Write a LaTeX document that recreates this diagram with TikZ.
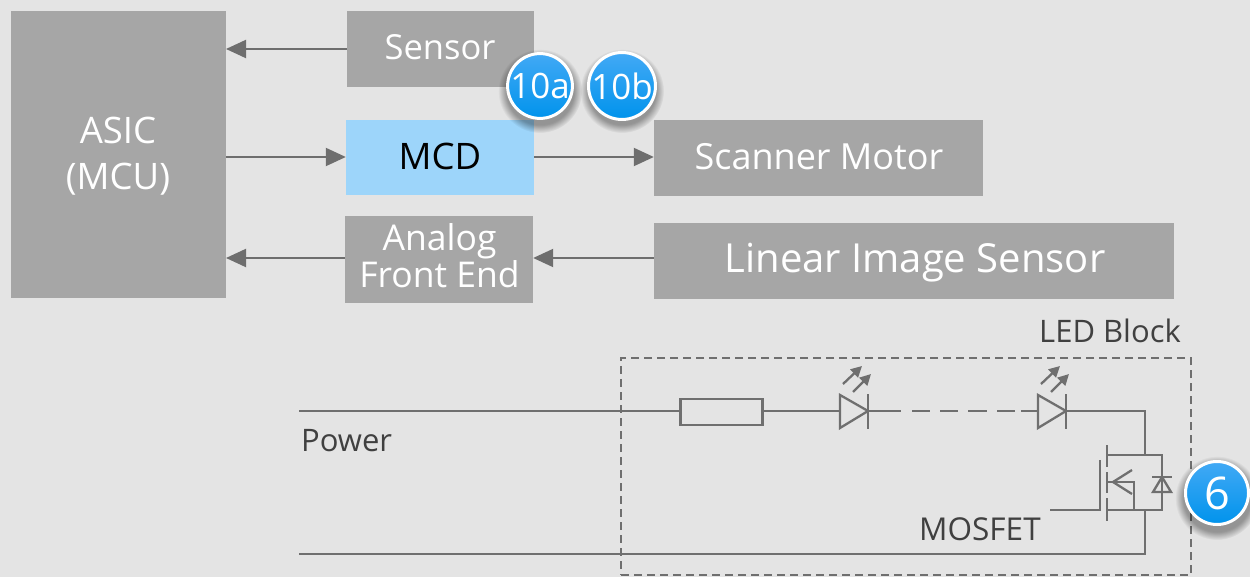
\documentclass[tikz,border=0pt]{standalone}
\usepackage{fontspec}
\setmainfont{Open Sans}
\usetikzlibrary{arrows.meta,shadows,fadings,calc}
\definecolor{bg}{HTML}{E4E4E4}
\definecolor{boxgray}{HTML}{A6A6A6}
\definecolor{mcdblue}{HTML}{9DD5FA}
\definecolor{wire}{HTML}{6F6F6F}
\definecolor{arrowgray}{HTML}{6E6E6E}
\definecolor{txt}{HTML}{404040}
\definecolor{badgetop}{HTML}{42A9F5}
\definecolor{badgebot}{HTML}{0093EC}
\tikzset{
  x=1pt,y=-1pt,
  block/.style={fill=boxgray,draw=none,text=white,inner sep=0pt,align=center,font=\fontsize{#1}{#1}\selectfont},
  block/.default=34,
  flow/.style={draw=arrowgray,line width=2pt,-{Triangle[length=20pt,width=18pt]},shorten >=0pt},
  wireline/.style={draw=wire,line width=2.3pt,line cap=butt,line join=miter},
  label/.style={text=txt,inner sep=0pt,font=\fontsize{31}{31}\selectfont},
  badge/.style={circle,minimum size=63pt,inner sep=0pt,draw=white,line width=3pt,text=white,
    top color=badgetop,bottom color=badgebot,
    font=\fontsize{#1}{#1}\selectfont},
  badge/.default=36,
  badgeshadow/.style={fill=black,fill opacity=.35,path fading=circle with fuzzy edge 20 percent}
}
\newcommand{\blockat}[7]{% name, x1,y1,x2,y2, style, text
  \node[#6,minimum width=#4pt-#2pt,minimum height=#5pt-#3pt] (#1) at ({(#2+#4)/2},{(#3+#5)/2}) {#7};}
\begin{document}
\begin{tikzpicture}
\useasboundingbox (0,0) rectangle (1250,577);
\fill[bg] (0,0) rectangle (1250,577);
% blocks
\blockat{asic}{11}{11}{226}{298}{block=36}{}
\node[text=white,align=center,font=\fontsize{36.5}{46}\selectfont,inner sep=0pt] (asictext) at (118,156) {ASIC\\(MCU)};
\blockat{sensor}{347}{11}{534}{87}{block=34.5}{}
\node[text=white,font=\fontsize{34.5}{34.5}\selectfont,inner sep=0pt] (sensortext) at (440,47) {Sensor};
\blockat{mcd}{346}{120}{534}{195}{block=36,fill=mcdblue,text=black,yshift=0pt}{}
\node[text=black,font=\fontsize{36.5}{36.5}\selectfont,inner sep=0pt] (mcdtext) at (440,156) {MCD};
\blockat{motor}{654}{120}{983}{196}{block=36}{}
\node[text=white,font=\fontsize{36}{36}\selectfont,inner sep=0pt] (motortext) at (819,157) {Scanner Motor};
\blockat{afe}{345}{216}{533}{303}{block=36}{}
\node[text=white,align=center,font=\fontsize{35.5}{37}\selectfont,inner sep=0pt] (afetext) at (439.5,256) {Analog\\Front End};
\blockat{lis}{654}{223}{1174}{299}{block=40}{}
\node[text=white,font=\fontsize{40}{40}\selectfont,inner sep=0pt] (listext) at (915,263) {Linear Image Sensor};
% flow arrows
\coordinate (sensorin) at (226,49);
\coordinate (asicout) at (226,157);
\coordinate (afeout) at (226,258);
\draw[flow] (sensor.west |- sensorin) -- (sensorin);
\draw[flow] (asicout) -- (mcd.west |- asicout);
\draw[flow] (mcd.east |- asicout) -- (motor.west |- asicout);
\draw[flow] (lis.west |- afeout) -- (afe.east |- afeout);
\draw[flow] (afe.west |- afeout) -- (afeout);
% LED block frame
\node[draw=wire,line width=2.3pt,dash pattern=on 8pt off 5pt,minimum width=570pt,minimum height=217pt,inner sep=0pt] (ledblock) at (906,466.5) {};
\node[label,anchor=base] (ledlabel) at (1110,342) {LED Block};
\node[label,anchor=base west] (power) at (301,451) {Power};
\node[label,anchor=base west,font=\fontsize{31.5}{31.5}\selectfont] (mosfet) at (919,540) {MOSFET};
% circuit
\coordinate (pw) at (299,411);
\node[draw=wire,line width=2.3pt,minimum width=82pt,minimum height=26pt,inner sep=0pt] (res) at (721.5,412) {};
\coordinate (d1a) at (840,411);
\coordinate (d1k) at (868,411);
\coordinate (d2a) at (1038,411);
\coordinate (d2k) at (1066,411);
\draw[wireline] (pw) -- (res.west |- pw);
\draw[wireline] (res.east |- pw) -- (d1a);
\draw[wireline] (d1k) -- (901,411);
\draw[wireline] (912,411) -- (930,411);
\draw[wireline] (940,411) -- (958,411);
\draw[wireline] (968,411) -- (987,411);
\draw[wireline] (997,411) -- (1015,411);
\draw[wireline] (1021,411) -- (d2a);
\foreach \a/\k in {d1a/d1k,d2a/d2k}{
  \draw[wireline] (\a) ++(0,-16) -- ++(0,33) -- (\k) -- cycle;
  \draw[wireline] (\k) ++(0,-17) -- ++(0,35);
  \draw[draw=wire,line width=2.3pt,-{Triangle[length=11pt,width=11pt]}] (\k) ++(-25,-27) -- ++(19,-18);
  \draw[draw=wire,line width=2.3pt,-{Triangle[length=11pt,width=11pt]}] (\k) ++(-15,-19) -- ++(18,-18);
}
% MOSFET
\coordinate (drain) at (1145,455);
\coordinate (source) at (1145,510);
\coordinate (gnd) at (299,554);
\draw[wireline] (d2k) -- (1145,411) -- (drain);
\draw[wireline] (1107,455) -- (1162,455) -- (1162,510) -- (1107,510);
\draw[wireline] (source) -- (1145,554) -- (gnd);
\draw[wireline] (1107,445) -- (1107,467);
\draw[wireline] (1107,472) -- (1107,493);
\draw[wireline] (1107,498) -- (1107,521);
\draw[wireline] (1100,460) -- (1100,510) -- (1050,510);
\draw[wireline] (1107,482) -- (1134,482) -- (1134,510);
\draw[wireline] (1132,470) -- (1113,482) -- (1132,494);
\draw[wireline] (1152,477) -- (1172,477);
\draw[wireline] (1162,477) -- (1153,492) -- (1171,492) -- cycle;
% badges
\foreach \c in {(540,91),(622,91),(1217,498)}{
  \fill[badgeshadow] \c circle (42);
}
\node[badge=35] (b10a) at (540,86) {10a};
\node[badge=35] (b10b) at (622,86) {10b};
\node[badge=45] (b6) at (1217,493) {6};
\end{tikzpicture}
\end{document}
